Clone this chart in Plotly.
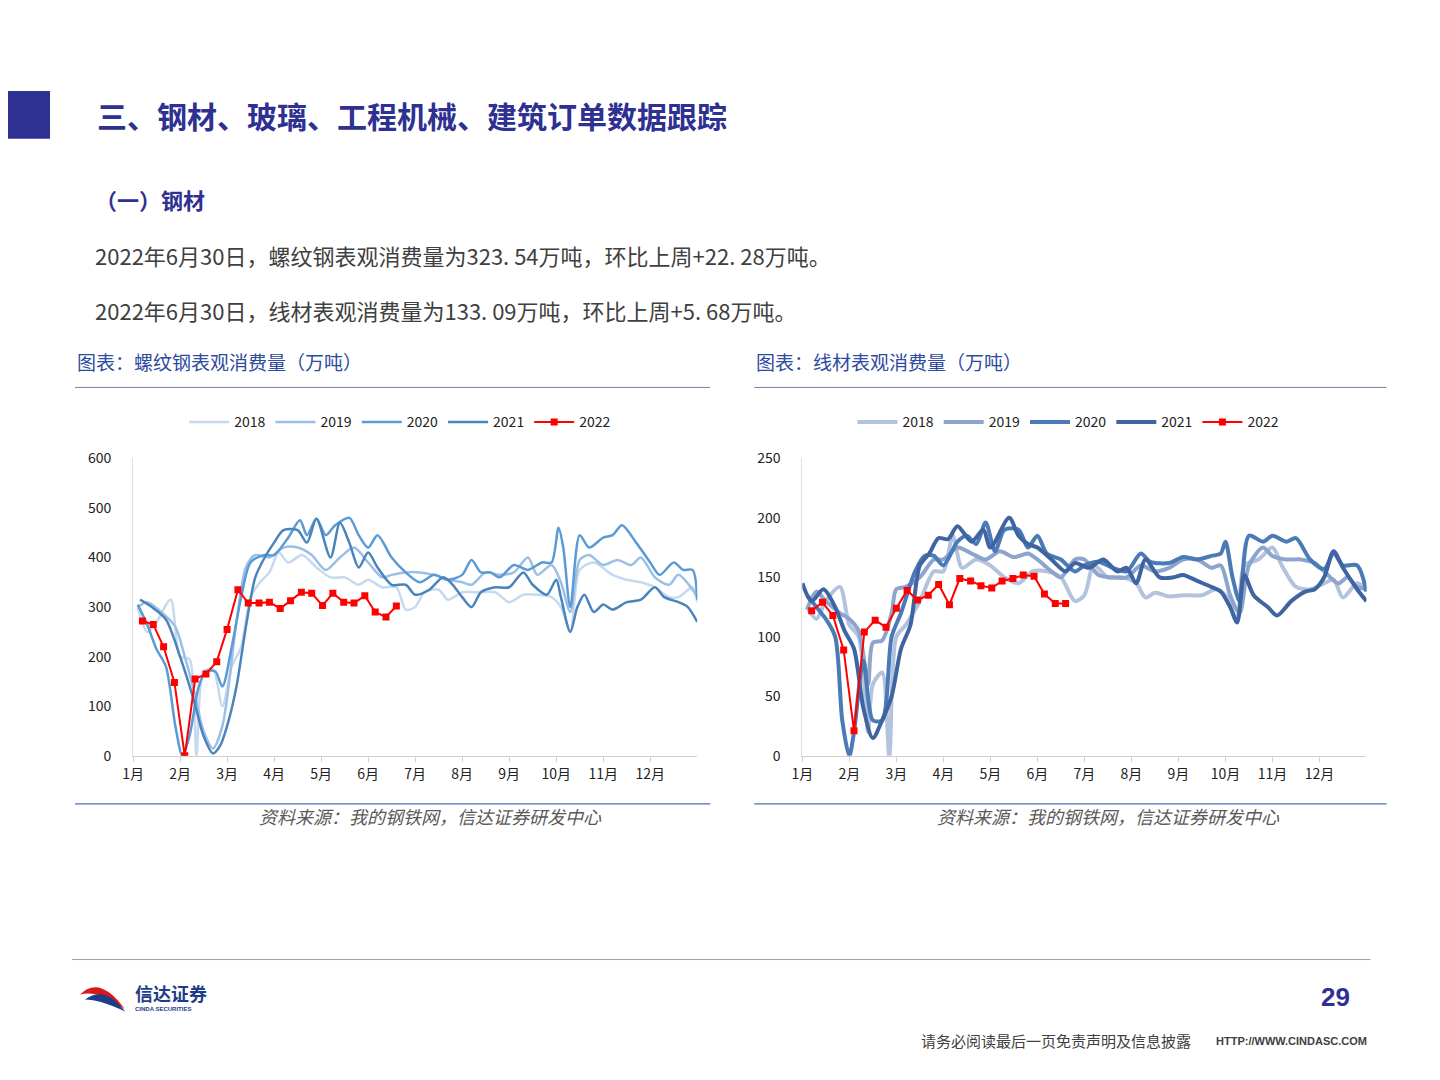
import plotly.graph_objects as go

# ---------- 螺纹钢 (left) ----------
rb18_x = [1.1,1.3,1.5,1.8,2.0,2.2,2.35,2.5,2.7,2.9,3.1,3.3,3.5,3.7,3.9,4.1,4.3,4.6,4.9,5.2,5.5,5.8,6.0,6.3,6.6,6.8,7.0,7.2,7.5,7.7,8.0,8.3,8.7,9.0,9.3,9.6,9.9,10.1,10.3,10.5,10.8,11.2,11.5,11.8,12.1,12.4,12.6,12.9,13.0]
rb18_y = [300,250,270,315,200,195,0,170,175,100,180,220,320,350,370,410,390,405,380,360,360,345,355,340,340,295,300,330,335,315,330,330,330,310,325,325,320,300,250,375,390,365,355,350,340,320,320,340,310]
rb19_x = [1.1,1.3,1.6,1.9,2.1,2.3,2.5,2.7,2.9,3.2,3.4,3.6,3.9,4.2,4.5,4.8,5.1,5.4,5.7,6.0,6.3,6.5,6.8,7.1,7.4,7.7,8.0,8.2,8.5,8.8,9.1,9.4,9.6,9.9,10.1,10.3,10.5,10.7,11.0,11.3,11.6,11.8,12.1,12.4,12.6,12.9,13.0]
rb19_y = [300,310,290,260,200,130,50,15,60,270,380,405,400,420,420,405,375,400,420,390,360,365,370,370,365,355,350,345,370,365,370,400,365,385,350,290,395,405,385,395,385,400,360,345,365,335,320]
rb20_x = [1.1,1.3,1.5,1.7,1.9,2.05,2.2,2.4,2.55,2.75,2.9,3.1,3.3,3.5,3.8,4.0,4.3,4.55,4.7,4.9,5.1,5.3,5.6,5.8,6.0,6.2,6.5,6.8,7.1,7.4,7.7,8.0,8.2,8.4,8.6,8.8,9.1,9.4,9.7,9.9,10.05,10.15,10.3,10.5,10.7,11.0,11.2,11.4,11.7,12.0,12.2,12.5,12.7,12.9,13.0]
rb20_y = [305,265,215,180,60,0,40,140,170,170,140,220,320,390,405,405,440,475,445,478,445,465,480,445,420,445,400,370,350,365,355,365,395,370,370,360,385,375,390,390,460,420,300,445,420,440,445,465,430,390,365,390,375,375,315]
rb21_x = [1.15,1.4,1.7,2.0,2.3,2.5,2.7,2.85,3.0,3.2,3.4,3.6,3.8,4.0,4.2,4.5,4.7,4.9,5.2,5.4,5.6,5.8,6.0,6.2,6.5,6.8,7.0,7.3,7.6,7.8,8.0,8.2,8.4,8.7,9.0,9.3,9.5,9.8,10.0,10.1,10.3,10.45,10.6,10.8,11.0,11.2,11.5,11.8,12.1,12.3,12.6,12.8,13.0]
rb21_y = [315,300,275,200,110,40,5,20,60,140,260,360,400,430,455,455,430,478,400,470,430,380,410,380,345,345,325,335,360,345,320,300,330,340,340,370,345,325,355,320,250,300,325,290,305,295,310,315,340,320,310,300,270]
rb22_x = [1.2,1.43,1.65,1.88,2.1,2.32,2.55,2.78,3.0,3.23,3.45,3.68,3.9,4.13,4.35,4.58,4.8,5.03,5.25,5.48,5.7,5.93,6.15,6.38,6.6]
rb22_y = [272,265,220,148,0,155,165,190,255,335,308,308,310,297,313,330,328,303,328,310,308,323,290,280,302]

# ---------- 线材 (right) ----------
wr18_x = [1.1,1.3,1.5,1.8,2.0,2.2,2.4,2.5,2.7,2.85,3.0,3.2,3.5,3.8,4.0,4.2,4.4,4.7,5.0,5.3,5.6,5.9,6.2,6.5,6.8,7.0,7.2,7.5,7.8,8.1,8.3,8.5,8.8,9.1,9.5,9.8,10.0,10.25,10.4,10.7,11.0,11.2,11.5,11.8,12.1,12.3,12.5,12.8,13.0]
wr18_y = [125,115,130,142,110,100,20,60,70,0,100,110,130,155,155,185,158,165,160,150,145,155,155,150,130,135,160,150,150,145,133,137,134,135,135,140,135,115,160,165,175,160,142,140,145,148,133,145,140]
wr19_x = [1.1,1.3,1.5,1.8,2.0,2.2,2.4,2.5,2.7,2.9,3.0,3.2,3.5,3.8,4.0,4.3,4.6,4.9,5.2,5.5,5.8,6.0,6.3,6.5,6.8,7.0,7.3,7.6,7.9,8.2,8.5,8.8,9.1,9.4,9.7,9.9,10.1,10.3,10.5,10.8,11.0,11.3,11.6,11.9,12.1,12.4,12.6,12.8,13.0]
wr19_y = [123,138,130,120,115,105,60,95,97,120,140,142,150,165,165,175,170,165,172,167,170,165,155,150,165,165,152,150,150,160,155,158,165,165,158,160,135,120,160,175,168,165,165,162,155,145,150,142,140]
wr20_x = [1.1,1.3,1.5,1.7,1.85,2.0,2.1,2.3,2.5,2.7,2.9,3.1,3.4,3.6,3.8,4.0,4.3,4.5,4.7,4.9,5.1,5.3,5.6,5.8,6.0,6.2,6.5,6.8,7.0,7.3,7.6,7.9,8.2,8.4,8.8,9.1,9.4,9.7,9.9,10.0,10.15,10.3,10.5,10.8,11.0,11.3,11.5,11.8,12.1,12.3,12.5,12.8,13.0]
wr20_y = [135,125,115,100,30,0,20,80,30,30,100,120,155,168,168,160,180,185,178,196,172,190,190,175,185,170,165,155,160,163,158,155,170,163,162,167,165,168,170,180,150,130,185,180,185,180,183,165,157,170,160,160,138]
wr21_x = [1.0,1.2,1.45,1.7,1.9,2.1,2.3,2.5,2.7,2.9,3.1,3.3,3.5,3.7,3.9,4.1,4.3,4.6,4.85,5.0,5.4,5.6,5.8,6.0,6.3,6.6,6.8,7.1,7.4,7.7,7.9,8.1,8.3,8.6,8.9,9.1,9.4,9.7,9.9,10.1,10.25,10.4,10.6,10.9,11.1,11.4,11.7,11.9,12.1,12.3,12.5,12.8,13.0]
wr21_y = [145,130,140,125,105,90,40,15,30,50,90,110,160,170,183,182,193,180,190,175,200,185,178,175,165,155,162,158,165,155,158,145,165,150,150,152,147,142,138,125,112,152,135,125,118,130,138,140,150,172,158,140,130]
wr22_x = rb22_x
wr22_y = [122,129,118,89,21,104,114,108,124,139,131,135,144,127,149,147,143,141,147,149,152,151,136,128,128]

month_pos = list(range(1, 13))
month_labels = [f"{m}月" for m in month_pos]

years = ["2018", "2019", "2020", "2021"]
left_colors = ["#c6d9ef", "#9cbfe5", "#5b9bd5", "#4a84bd"]
right_colors = ["#b3c3de", "#8da5cc", "#4a7bb7", "#3f64a2"]

left = [(rb18_x, rb18_y), (rb19_x, rb19_y), (rb20_x, rb20_y), (rb21_x, rb21_y)]
right = [(wr18_x, wr18_y), (wr19_x, wr19_y), (wr20_x, wr20_y), (wr21_x, wr21_y)]

fig = go.Figure()
for i, (x, y) in enumerate(left):
    fig.add_trace(go.Scatter(x=x, y=y, mode="lines", name=years[i], line=dict(color=left_colors[i], width=2.5, shape="spline", smoothing=0.8),
                             xaxis="x", yaxis="y", legend="legend"))
fig.add_trace(go.Scatter(x=rb22_x, y=rb22_y, mode="lines+markers", name="2022", line=dict(color="#ff0000", width=2),
                         marker=dict(symbol="square", size=7, color="#ff0000"), xaxis="x", yaxis="y", legend="legend"))
for i, (x, y) in enumerate(right):
    fig.add_trace(go.Scatter(x=x, y=y, mode="lines", name=years[i], line=dict(color=right_colors[i], width=4, shape="spline", smoothing=0.8),
                             xaxis="x2", yaxis="y2", legend="legend2"))
fig.add_trace(go.Scatter(x=wr22_x, y=wr22_y, mode="lines+markers", name="2022", line=dict(color="#ff0000", width=2),
                         marker=dict(symbol="square", size=7, color="#ff0000"), xaxis="x2", yaxis="y2", legend="legend2"))

W, H = 1440, 1080
# the page shows the figure shifted/scaled slightly; compensate so slide pixels land where intended
def px(x): return (x - 19) / 0.992 / W
def py(y): return 1 - (y - 18) / 0.983 / H

xax = dict(range=[1, 13], tickvals=month_pos, ticktext=month_labels, showgrid=False, zeroline=False,
           showline=True, linecolor="#d0d0d0", ticks="outside", tickcolor="#d0d0d0", ticklen=5,
           tickfont=dict(size=14, color="#222"))
yax = dict(showgrid=False, zeroline=False, showline=True, linecolor="#e0e0e0", tickfont=dict(size=14, color="#222"),
           ticks="", ticklabelstandoff=18)

fig.update_layout(
    width=W, height=H, margin=dict(l=0, r=0, t=0, b=0), plot_bgcolor="white", paper_bgcolor="white",
    font=dict(family="Noto Sans CJK SC", color="#333"),
    xaxis=dict(xax, domain=[px(133), px(697)], anchor="y"),
    yaxis=dict(yax, domain=[py(756), py(458)], range=[0, 600], dtick=100, anchor="x"),
    xaxis2=dict(xax, domain=[px(802), px(1366)], anchor="y2"),
    yaxis2=dict(yax, domain=[py(756), py(458)], range=[0, 250], dtick=50, anchor="x2"),
    legend=dict(orientation="h", x=px(400), y=py(422), xanchor="center", yanchor="middle", font=dict(size=14, color="#222"), itemwidth=40),
    legend2=dict(orientation="h", x=px(1068), y=py(422), xanchor="center", yanchor="middle", font=dict(size=14, color="#222"), itemwidth=40),
    showlegend=True,
)

blue = "#2e3192"
shapes = [
    dict(type="rect", x0=px(0), x1=px(50), y0=py(138), y1=py(90), fillcolor="#2e3192", line_width=0),
    dict(type="line", x0=px(75), x1=px(710), y0=py(387), y1=py(387), line=dict(color="#7f7f9f", width=1)),
    dict(type="line", x0=px(754), x1=px(1386), y0=py(387), y1=py(387), line=dict(color="#7f7f9f", width=1)),
    dict(type="line", x0=px(75), x1=px(710), y0=py(804), y1=py(804), line=dict(color="#4a6fb5", width=1.2)),
    dict(type="line", x0=px(754), x1=px(1386), y0=py(804), y1=py(804), line=dict(color="#4a6fb5", width=1.2)),
    dict(type="line", x0=px(72), x1=px(1370), y0=py(960), y1=py(960), line=dict(color="#a0a0a0", width=1)),
    # logo swoosh
    dict(type="path", path=f"M {px(80)} {py(995)} Q {px(100)} {py(975)} {px(125)} {py(1010)} Q {px(100)} {py(990)} {px(80)} {py(995)} Z",
         fillcolor="#d7191c", line_width=0),
    dict(type="path", path=f"M {px(85)} {py(1000)} Q {px(105)} {py(985)} {px(125)} {py(1012)} Q {px(100)} {py(1000)} {px(85)} {py(1000)} Z",
         fillcolor="#1f3c88", line_width=0),
]
for s in shapes:
    s.update(xref="paper", yref="paper")
fig.update_layout(shapes=shapes)

def txt(x, y, t, size, color="#333", xanchor="left", bold=False, italic=False, family=None):
    if bold:
        t = f"<b>{t}</b>"
    if italic:
        t = f"<i>{t}</i>"
    f = dict(size=size, color=color)
    if family:
        f["family"] = family
    fig.add_annotation(x=px(x), y=py(y), xref="paper", yref="paper", text=t, showarrow=False,
                       xanchor=xanchor, yanchor="middle", font=f)

txt(95, 114, "三、钢材、玻璃、工程机械、建筑订单数据跟踪", 30, blue, bold=True)
txt(93, 198, "（一）钢材", 22, blue, bold=True)
txt(93, 254, "2022年6月30日，螺纹钢表观消费量为323. 54万吨，环比上周+22. 28万吨。", 22, "#404040")
txt(93, 309, "2022年6月30日，线材表观消费量为133. 09万吨，环比上周+5. 68万吨。", 22, "#404040")
txt(75, 361, "图表：螺纹钢表观消费量（万吨）", 19, "#2e4a9e")
txt(754, 361, "图表：线材表观消费量（万吨）", 19, "#2e4a9e")
txt(430, 816, "资料来源：我的钢铁网，信达证券研发中心", 18, "#595959", xanchor="center", italic=True)
txt(1108, 816, "资料来源：我的钢铁网，信达证券研发中心", 18, "#595959", xanchor="center", italic=True)
txt(133, 994, "信达证券", 18, "#1f3c88", bold=True)
txt(133, 1010, "CINDA SECURITIES", 6, "#1f3c88", bold=True, family="Liberation Sans")
txt(1352, 998, "29", 26, blue, xanchor="right", bold=True, family="Liberation Sans")
txt(1193, 1041, "请务必阅读最后一页免责声明及信息披露", 15, "#404040", xanchor="right")
txt(1369, 1042, "HTTP://WWW.CINDASC.COM", 11, "#404040", xanchor="right", bold=True, family="Liberation Sans")

fig.write_html("out.html")
